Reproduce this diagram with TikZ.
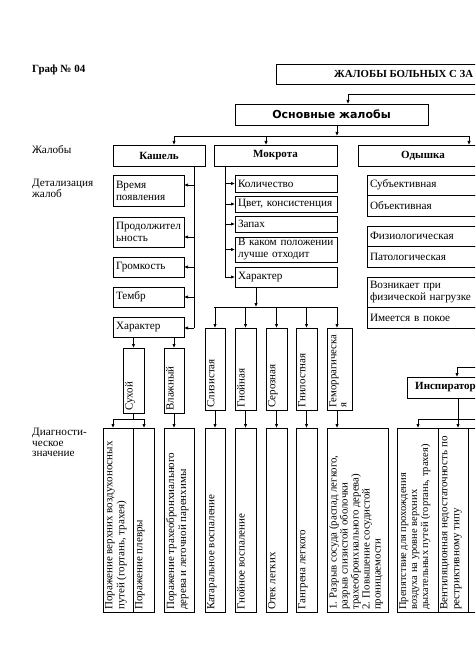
\documentclass[tikz,border=0pt]{standalone}
\usepackage{fontspec}
\setmainfont{Liberation Serif}
\newfontfamily\heavysans{DejaVu Sans}
\usetikzlibrary{arrows.meta,calc}
\newcommand{\detf}{\fontsize{11.2}{12}\selectfont}
\newcommand{\rotf}{\fontsize{11}{12}\selectfont}
\begin{document}
\begin{tikzpicture}[x=1pt,y=-1pt,
  box/.style={draw=black, line width=0.75pt, inner sep=0pt, outer sep=0pt, anchor=north west},
  dbox/.style={box, align=left, font=\detf},
  hd/.style={box, font=\bfseries\fontsize{11}{13}\selectfont},
  arr/.style={line width=0.75pt, -{Latex[length=4pt,width=3.4pt]}},
  ln/.style={line width=0.75pt},
  rot/.style={rotate=90, anchor=north west, align=left, inner sep=2pt, font=\rotf},
  lab/.style={anchor=north west, align=left, inner sep=0pt, font=\fontsize{11.2}{10.7}\selectfont}]
\useasboundingbox (0,0) rectangle (475,671);
\clip (0,0) rectangle (475,671);
\fill[white] (0,0) rectangle (475,671);

% title
\node[anchor=west, inner sep=0pt, font=\bfseries\fontsize{11}{12}\selectfont] (graf) at (32,70) {Граф № 04};
\node[box, minimum width=230, minimum height=20] (title) at (276,64) {};
\node[anchor=west, inner sep=0pt, font=\bfseries\fontsize{10.8}{12}\selectfont] (titletxt) at (334,74) {ЖАЛОБЫ БОЛЬНЫХ С ЗА};

% left labels
\node[anchor=west, inner sep=0pt, font=\fontsize{11.2}{10.7}\selectfont] (lz) at (32,150) {Жалобы};
\node[lab] (ld) at (32,179) {Детализация\\жалоб};
\node[lab] (ldz) at (32,428) {Диагности-\\ческое\\значение};

% main complaints
\node[box, minimum width=193, minimum height=21, font=\heavysans\bfseries\fontsize{11}{13}\selectfont] (osn) at (235,104) {Основные жалобы};
\coordinate (tsrc) at (480,94);
\coordinate (tbend) at (348,94);
\draw[arr] (tsrc) -- (tbend) -- (tbend |- osn.north);

\node[hd, minimum width=92, minimum height=21] (kashel) at (113,145) {Кашель};
\node[hd, minimum width=123, minimum height=21] (mokr) at (214,145) {Мокрота};
\node[hd, minimum width=130, minimum height=21] (odysh) at (358,145) {Одышка};

\coordinate (b1s) at (337,136);
\coordinate (b1l) at (174,136);
\coordinate (b1m) at (266,136);
\coordinate (b1r) at (469,136);
\draw[arr] (osn.south -| b1s) -- (b1s);
\draw[ln] (b1l) -- (b1r);
\draw[arr] (b1l) -- (b1l |- kashel.north);
\draw[arr] (b1m) -- (b1m |- mokr.north);
\draw[arr] (b1r) -- (b1r |- odysh.north);

% cough details
\node[dbox, minimum width=71, minimum height=31, text width=65] (vremya) at (113,175) {Время\\появления};
\node[dbox, minimum width=71, minimum height=30, text width=65] (prod) at (113,217) {Продолжител\\ьность};
\node[dbox, minimum width=71, minimum height=20, text width=65] (grom) at (113,257) {Громкость};
\node[dbox, minimum width=71, minimum height=20, text width=65] (temb) at (113,287) {Тембр};
\node[dbox, minimum width=71, minimum height=20, text width=65] (harK) at (113,317) {Характер};
\coordinate (k1) at (194,185);
\coordinate (k2) at (194,237);
\coordinate (k3) at (194,267);
\coordinate (k4) at (194,297);
\coordinate (kt) at (194,328);
\draw[ln] (kt |- kashel.south) -- (kt);
\draw[arr] (k1) -- (k1 -| vremya.east);
\draw[arr] (k2) -- (k2 -| prod.east);
\draw[arr] (k3) -- (k3 -| grom.east);
\draw[arr] (k4) -- (k4 -| temb.east);
\draw[arr] (kt) -- (kt -| harK.east);

% sputum details
\node[dbox, minimum width=102, minimum height=17, text width=96] (kol) at (235,175) {Количество};
\node[dbox, minimum width=102, minimum height=16, text width=96] (cvet) at (235,196) {Цвет, консистенция};
\node[dbox, minimum width=102, minimum height=16, text width=96] (zap) at (235,216) {Запах};
\node[dbox, minimum width=102, minimum height=25, text width=96] (pol) at (235,237) {В каком положении\\лучше отходит};
\node[dbox, minimum width=102, minimum height=20, text width=96] (harM) at (235,267) {Характер};
\coordinate (mt) at (225,277);
\draw[ln] (mt |- mokr.south) -- (mt);
\draw[arr] (mt |- kol.west) -- (kol.west);
\draw[arr] (mt |- cvet.west) -- (cvet.west);
\draw[arr] (mt |- zap.west) -- (zap.west);
\draw[arr] (mt |- pol.west) -- (pol.west);
\draw[arr] (mt) -- (harM.west);

% dyspnea details
\node[dbox, minimum width=133, minimum height=20, text width=127] (sub) at (367,175) {Субъективная};
\node[dbox, minimum width=133, minimum height=21, text width=127] (obj) at (367,195) {Объективная};
\node[dbox, minimum width=133, minimum height=20, text width=127] (fiz) at (367,226) {Физиологическая};
\node[dbox, minimum width=133, minimum height=21, text width=127] (pat) at (367,246) {Патологическая};
\node[dbox, minimum width=133, minimum height=30, text width=127] (voz) at (367,277) {Возникает при\\физической нагрузке};
\node[dbox, minimum width=133, minimum height=21, text width=127] (pokoy) at (367,307) {Имеется в покое};

% cough character
\node[box, minimum width=21, minimum height=65] (suh) at (123,348) {};
\node[box, minimum width=20, minimum height=65] (vlazh) at (164,348) {};
\node[rot] (tsuh) at (suh.south west) {Сухой};
\node[rot] (tvlazh) at (vlazh.south west) {Влажный};
\draw[arr] (harK.south -| suh.north) -- (suh.north);
\draw[arr] (harK.south -| vlazh.north) -- (vlazh.north);

% sputum character
\node[box, minimum width=20, minimum height=82] (sliz) at (205,328) {};
\node[box, minimum width=21, minimum height=82] (gnoi) at (235,328) {};
\node[box, minimum width=21, minimum height=82] (ser) at (266,328) {};
\node[box, minimum width=21, minimum height=82] (gnil) at (296,328) {};
\node[box, minimum width=25, minimum height=82] (gem) at (327,328) {};
\node[rot] (tsliz) at (sliz.south west) {Слизистая};
\node[rot] (tgnoi) at (gnoi.south west) {Гнойная};
\node[rot] (tser) at (ser.south west) {Серозная};
\node[rot] (tgnil) at (gnil.south west) {Гнилостная};
\node[rot, font=\fontsize{10.8}{10}\selectfont] (tgem) at (gem.south west) {Геморрагическа\\я};
\coordinate (mb) at (256,307);
\coordinate (mbl) at (214,307);
\coordinate (mbr) at (337,307);
\draw[arr] (harM.south -| mb) -- (mb);
\draw[ln] (mbl) -- (mbr);
\draw[arr] (sliz.north |- mbl) -- (sliz.north);
\draw[arr] (gnoi.north |- mbl) -- (gnoi.north);
\draw[arr] (ser.north |- mbl) -- (ser.north);
\draw[arr] (gnil.north |- mbl) -- (gnil.north);
\draw[arr] (mbr) -- (mbr |- gem.north);

% inspiratory
\node[box, minimum width=100, minimum height=21] (insp) at (407,377) {};
\node[anchor=west, inner sep=0pt, font=\bfseries\fontsize{11}{13}\selectfont] (insptxt) at (415,387.5) {Инспиратор};
\coordinate (isrc) at (480,367);
\coordinate (ibend) at (457,367);
\draw[arr] (isrc) -- (ibend) -- (ibend |- insp.north);

% diagnostic value row
\node[box, minimum width=30, minimum height=184] (pvp) at (103,428) {};
\node[box, minimum width=21, minimum height=184] (plev) at (133,428) {};
\node[box, minimum width=30, minimum height=184] (ptr) at (164,428) {};
\node[box, minimum width=20, minimum height=184] (kat) at (205,428) {};
\node[box, minimum width=21, minimum height=184] (gnv) at (235,428) {};
\node[box, minimum width=21, minimum height=184] (otek) at (266,428) {};
\node[box, minimum width=21, minimum height=184] (gang) at (296,428) {};
\node[box, minimum width=61, minimum height=184] (razr) at (327,428) {};
\node[box, minimum width=41, minimum height=184] (prep) at (397,428) {};
\node[box, minimum width=30, minimum height=184] (vent) at (438,428) {};
\node[box, minimum width=40, minimum height=184] (third) at (468,428) {};

\node[rot] (tpvp) at (pvp.south west) {Поражение верхних воздухоносных\\путей (гортань, трахея)};
\node[rot] (tplev) at (plev.south west) {Поражение плевры};
\node[rot] (tptr) at (ptr.south west) {Поражение трахеобронхиального\\дерева и легочной паренхимы};
\node[rot] (tkat) at (kat.south west) {Катаральное воспаление};
\node[rot] (tgnv) at (gnv.south west) {Гнойное воспаление};
\node[rot] (totek) at (otek.south west) {Отек легких};
\node[rot] (tgang) at (gang.south west) {Гангрена легкого};
\node[rot, font=\fontsize{10.8}{11}\selectfont] (trazr) at (razr.south west) {1. Разрыв сосуда (распад легкого,\\разрыв слизистой оболочки\\трахеобронхиального дерева)\\2. Повышение сосудистой\\проницаемости};
\node[rot, font=\fontsize{10.5}{11}\selectfont] (tprep) at (prep.south west) {Препятствие для прохождения\\воздуха на уровне верхних\\дыхательных путей (гортань, трахея)};
\node[rot] (tvent) at (vent.south west) {Вентиляционная недостаточность по\\рестриктивному типу};

% connectors into diagnostic row
\coordinate (sbl) at (113,419);
\coordinate (sbr) at (144,419);
\draw[ln] (suh.south) -- (suh.south |- sbl);
\draw[ln] (sbl) -- (sbr);
\draw[arr] (sbl) -- (sbl |- pvp.north);
\draw[arr] (sbr) -- (sbr |- plev.north);
\draw[arr] (vlazh.south) -- (vlazh.south |- ptr.north);
\draw[arr] (sliz.south) -- (sliz.south |- kat.north);
\draw[arr] (gnoi.south) -- (gnoi.south |- gnv.north);
\draw[arr] (ser.south) -- (ser.south |- otek.north);
\draw[arr] (gnil.south) -- (gnil.south |- gang.north);
\draw[arr] (gem.south -| mbr) -- (mbr |- razr.north);

\coordinate (ob) at (458,419);
\coordinate (obl) at (418,419);
\coordinate (obr) at (480,419);
\draw[arr] (insp.south -| ob) -- (ob |- vent.north);
\draw[ln] (obl) -- (obr);
\draw[arr] (obl) -- (obl |- prep.north);
\end{tikzpicture}
\end{document}
